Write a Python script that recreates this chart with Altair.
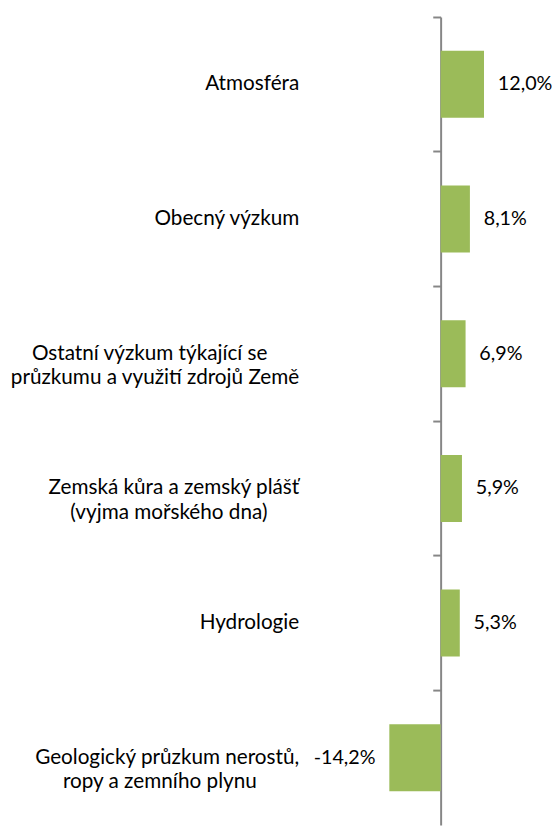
import altair as alt
import pandas as pd

NB = "\u00a0"  # non-breaking spaces centre the shorter line of a wrapped label
ZW = "\u200b"  # zero-width space keeps the padding from being trimmed

categories = [
    "Atmosféra",
    "Obecný výzkum",
    "Ostatní výzkum týkající se" + NB * 6 + ZW + "|průzkumu a využití zdrojů Země",
    "Zemská kůra a zemský plášť|(vyjma mořského dna)" + NB * 6 + ZW,
    "Hydrologie",
    "Geologický průzkum nerostů,|ropy a zemního plynu" + NB * 8 + ZW,
]
values = [12.0, 8.1, 6.9, 5.9, 5.3, -14.2]
value_labels = ["12,0%", "8,1%", "6,9%", "5,9%", "5,3%", "-14,2%"]

df = pd.DataFrame({"cat": categories, "value": values, "label": value_labels})

W = 110
H = 820
x_domain = [-15, 15]
zero_offset = -(0 - x_domain[0]) / (x_domain[1] - x_domain[0]) * W

FONT = "Lato"
axis_y = alt.Axis(
    title=None,
    offset=zero_offset,
    bandPosition=0,
    labelPadding=136,
    tickSize=8,
    tickColor="#868686",
    tickWidth=2,
    domainColor="#868686",
    domainWidth=2,
    labelFont=FONT,
    labelFontSize=21,
    labelColor="#000000",
    labelLimit=400,
    labelLineHeight=25,
    labelAlign="right",
    labelBaseline="middle",
    labelExpr="split(datum.label, '|')",
)
y_enc = alt.Y("cat:N", sort=categories,
              scale=alt.Scale(paddingInner=0, paddingOuter=0), axis=axis_y)
x_enc = alt.X("value:Q", scale=alt.Scale(domain=x_domain, nice=False), axis=None)

base = alt.Chart(df)
bars = base.mark_bar(color="#9BBB59", size=68).encode(x=x_enc, y=y_enc)
pos_text = base.transform_filter("datum.value >= 0").mark_text(
    align="left", baseline="middle", dx=14, font=FONT, fontSize=20, color="#000000"
).encode(x=x_enc, y=y_enc, text="label:N")
neg_text = base.transform_filter("datum.value < 0").mark_text(
    align="right", baseline="middle", dx=-14, font=FONT, fontSize=20, color="#000000"
).encode(x=x_enc, y=y_enc, text="label:N")

chart = alt.layer(bars, pos_text, neg_text).properties(
    width=W,
    height=H,
    autosize=alt.AutoSizeParams(type="none"),
    padding={"left": 384, "top": 3, "right": 58, "bottom": 10},
    background="white",
).configure_view(stroke=None)

chart.save("out.html", embed_options={"renderer": "svg", "actions": False})
